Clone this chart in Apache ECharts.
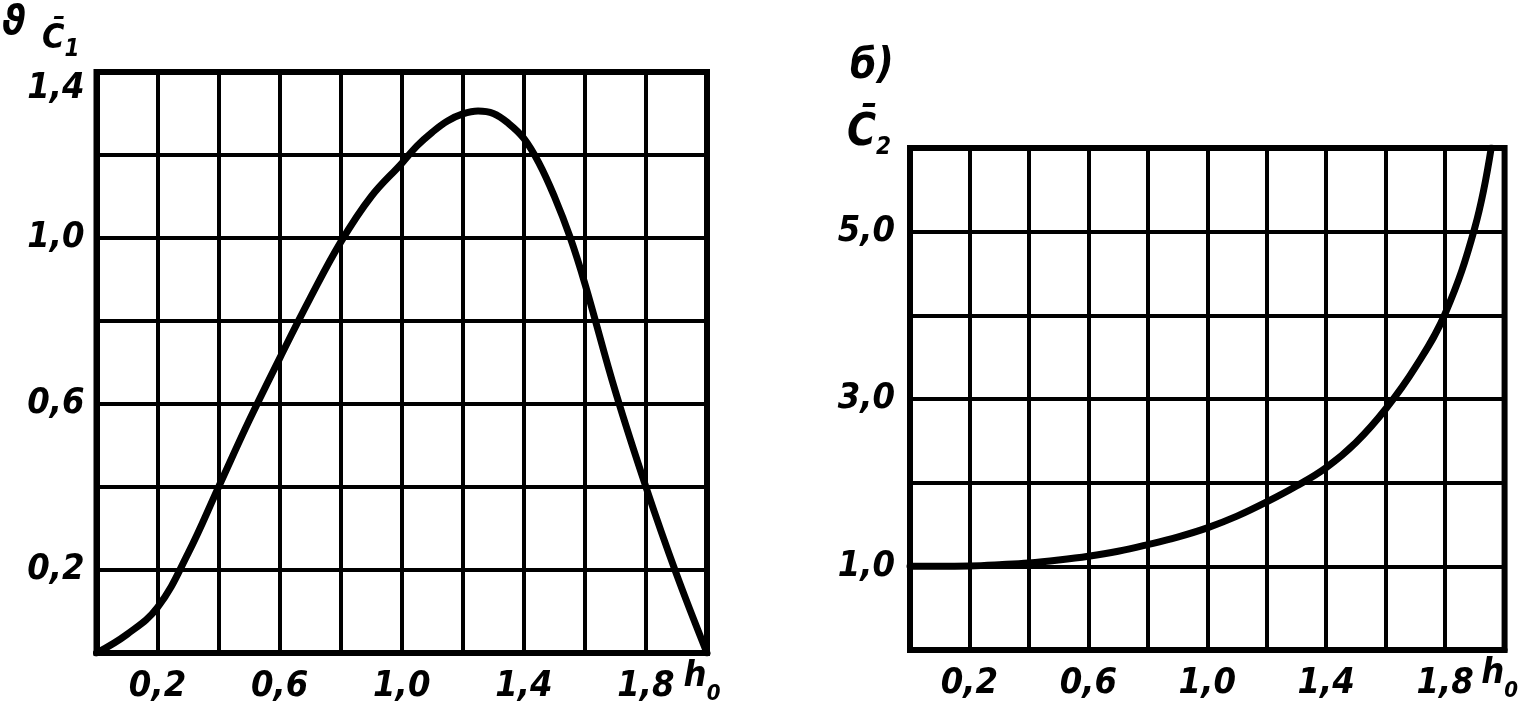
<!DOCTYPE html>
<html><head><meta charset="utf-8">
<script src="https://cdn.jsdelivr.net/npm/echarts@6/dist/echarts.min.js"></script>
<style>html,body{margin:0;padding:0;background:#fff}#c{width:1531px;height:720px}</style>
</head><body><div id="c"></div>
<script>
// ---- data ----
const c1H = [0, 0.1, 0.2, 0.3, 0.4, 0.5, 0.6, 0.7, 0.8, 0.9, 1.0, 1.05, 1.1, 1.15, 1.2, 1.25, 1.3, 1.35, 1.4, 1.45, 1.5, 1.55, 1.6, 1.7, 1.8, 1.9, 2.0];
const c1V = [0, 0.045, 0.11, 0.24, 0.40, 0.56, 0.71, 0.855, 0.99, 1.10, 1.18, 1.222, 1.255, 1.282, 1.299, 1.306, 1.300, 1.276, 1.24, 1.18, 1.10, 1.005, 0.89, 0.63, 0.40, 0.19, 0.0];
const c2H = [0, 0.1, 0.2, 0.3, 0.4, 0.5, 0.6, 0.7, 0.8, 0.9, 1.0, 1.1, 1.2, 1.3, 1.4, 1.5, 1.6, 1.7, 1.8, 1.9, 1.955];
const c2V = [1.0, 1.0, 1.005, 1.02, 1.04, 1.075, 1.12, 1.18, 1.26, 1.35, 1.46, 1.6, 1.77, 1.96, 2.18, 2.48, 2.88, 3.38, 4.02, 5.05, 6.0];
const xTickLabels = ['0,2', '0,6', '1,0', '1,4', '1,8'];
const xTickValues = [0.2, 0.6, 1.0, 1.4, 1.8];
const y1TickValues = [0.2, 0.6, 1.0, 1.4];
const y1TickLabels = ['0,2', '0,6', '1,0', '1,4'];
const y2TickValues = [1, 3, 5];
const y2TickLabels = ['1,0', '3,0', '5,0'];
const xEndLabel = 'h';
const xEndSub = '0';
const panel1Mark = 'ϑ';
const panel2Mark = 'б)';
const y1Name = 'C\u0304';
const y2Name = 'C\u0304';

// ---- style ----
const F = "'Liberation Sans Narrow','DejaVu Sans Condensed',sans-serif";
const lab = { color: '#000', fontFamily: F, fontWeight: 'bold', fontStyle: 'italic', fontSize: 36 };
const near = (a, b) => Math.abs(a - b) < 1e-6;
function pick(vals, labels, v) {
  for (let i = 0; i < vals.length; i++) if (near(vals[i], v)) return labels[i];
  return '';
}
const hRich = {
  h: Object.assign({}, lab, { lineHeight: 36, verticalAlign: 'bottom', padding: [0, 0, 10, 0] }),
  s: Object.assign({}, lab, { fontSize: 22, lineHeight: 22, verticalAlign: 'bottom', padding: [0, 10, 0, 0] }),
  t: Object.assign({}, lab, { padding: [34, 0, 0, 0] })
};
function xFmt(v) {
  if (near(v, 2)) return '{h|' + xEndLabel + '}{s|' + xEndSub + '}';
  return pick(xTickValues, xTickLabels, v);
}
const splitLine = { show: true, lineStyle: { color: '#000', width: 4 } };
const axisLine = { show: true, lineStyle: { color: '#000', width: 6 } };

const chart = echarts.init(document.getElementById('c'));
chart.setOption({
  animation: false,
  backgroundColor: '#fff',
  grid: [
    { left: 96.5, top: 72, width: 610.5, height: 581, show: true, borderColor: '#000', borderWidth: 6 },
    { left: 910, top: 148, width: 596, height: 502, show: true, borderColor: '#000', borderWidth: 6 }
  ],
  xAxis: [
    { gridIndex: 0, type: 'value', min: 0, max: 2, interval: 0.2, splitLine, axisLine, axisTick: { show: false },
      axisLabel: Object.assign({}, lab, { margin: 16, showMinLabel: true, showMaxLabel: true, formatter: xFmt, rich: hRich }) },
    { gridIndex: 1, type: 'value', min: 0, max: 2, interval: 0.2, splitLine, axisLine, axisTick: { show: false },
      axisLabel: Object.assign({}, lab, { margin: 16, showMinLabel: true, showMaxLabel: true, formatter: xFmt, rich: hRich }) }
  ],
  yAxis: [
    { gridIndex: 0, type: 'value', min: 0, max: 1.4, interval: 0.2, splitLine, axisLine, axisTick: { show: false },
      axisLabel: Object.assign({}, lab, { margin: 12, showMaxLabel: true, rich: hRich,
        formatter: v => near(v, 1.4) ? '{t|' + pick(y1TickValues, y1TickLabels, v) + '}' : pick(y1TickValues, y1TickLabels, v) }) },
    { gridIndex: 1, type: 'value', min: 0, max: 6, interval: 1, splitLine, axisLine, axisTick: { show: false },
      axisLabel: Object.assign({}, lab, { margin: 15, formatter: v => pick(y2TickValues, y2TickLabels, v) }) }
  ],
  graphic: [
    { type: 'text', left: 2, top: 4, style: Object.assign({}, lab, { text: panel1Mark, fontSize: 40, fill: '#000' }) },
    { type: 'text', left: 42, top: 22, style: {
        text: '{c|' + y1Name + '}{s|1}', fill: '#000',
        rich: { c: Object.assign({}, lab, { fontSize: 34, lineHeight: 40, verticalAlign: 'bottom', padding: [0, 0, 6, 0] }),
                s: Object.assign({}, lab, { fontSize: 24, lineHeight: 24, verticalAlign: 'bottom' }) } } },
    { type: 'text', left: 850, top: 46, style: Object.assign({}, lab, { text: panel2Mark, fontSize: 42, fill: '#000' }) },
    { type: 'text', left: 847, top: 112, style: {
        text: '{c|' + y2Name + '}{s|2}', fill: '#000',
        rich: { c: Object.assign({}, lab, { fontSize: 44, lineHeight: 50, verticalAlign: 'bottom', padding: [0, 0, 4, 0] }),
                s: Object.assign({}, lab, { fontSize: 24, lineHeight: 24, verticalAlign: 'bottom' }) } } }
  ],
  series: [
    { type: 'line', xAxisIndex: 0, yAxisIndex: 0, smooth: 0.4, showSymbol: false, symbol: 'none',
      lineStyle: { color: '#000', width: 7, cap: 'round' }, data: c1H.map((h, i) => [h, c1V[i]]) },
    { type: 'line', xAxisIndex: 1, yAxisIndex: 1, smooth: 0.4, showSymbol: false, symbol: 'none',
      lineStyle: { color: '#000', width: 7, cap: 'round' }, data: c2H.map((h, i) => [h, c2V[i]]) }
  ]
});
</script></body></html>
